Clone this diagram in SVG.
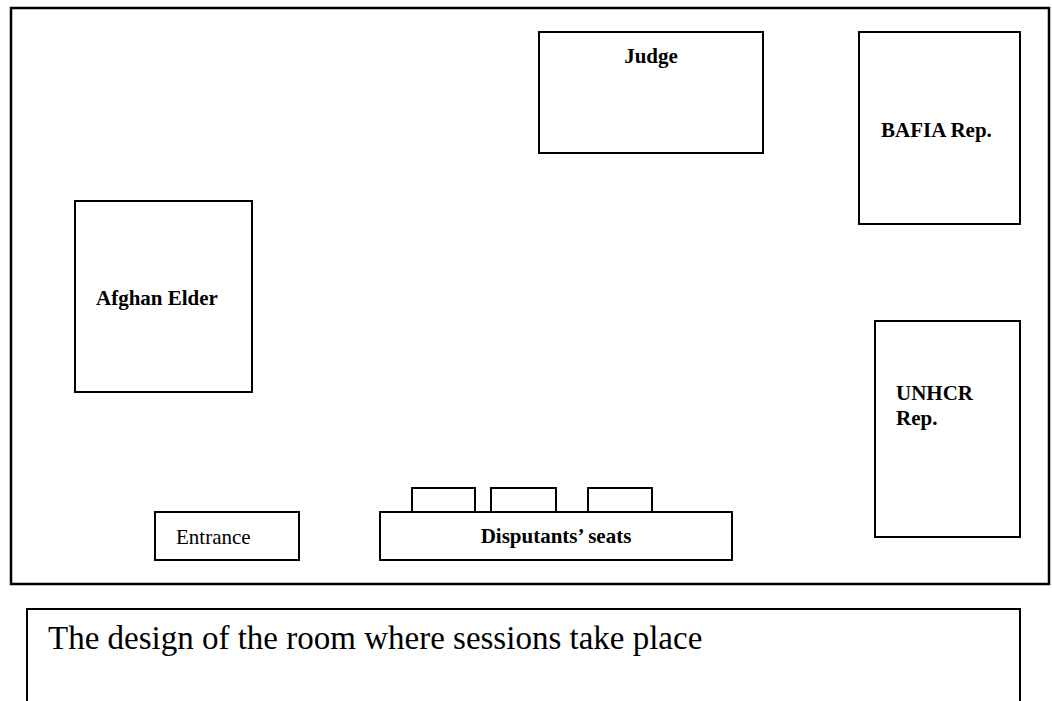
<svg xmlns="http://www.w3.org/2000/svg" width="1052" height="701" viewBox="0 0 1052 701">
  <style>
    .box { fill: #ffffff; stroke: #000000; stroke-width: 2; }
    .wall { fill: #ffffff; stroke: #000000; stroke-width: 2.5; }
    .lbl { font-family: "Liberation Serif", "Times New Roman", serif; font-size: 21px; font-weight: bold; fill: #000000; }
    .plain { font-family: "Liberation Serif", "Times New Roman", serif; font-size: 21px; fill: #000000; }
    .caption { font-family: "Liberation Serif", "Times New Roman", serif; font-size: 33px; fill: #000000; }
  </style>

  <rect x="0" y="0" width="1052" height="701" fill="#ffffff"/>

  <!-- room outline -->
  <g id="room">
    <rect class="wall" x="11" y="8" width="1038" height="576"/>
  </g>

  <g id="judge">
    <rect class="box" x="539" y="32" width="224" height="121"/>
    <text class="lbl" x="651" y="63" text-anchor="middle">Judge</text>
  </g>

  <g id="bafia-rep">
    <rect class="box" x="859" y="32" width="161" height="192"/>
    <text class="lbl" x="881" y="137">BAFIA Rep.</text>
  </g>

  <g id="afghan-elder">
    <rect class="box" x="75" y="201" width="177" height="191"/>
    <text class="lbl" x="96" y="305">Afghan Elder</text>
  </g>

  <g id="unhcr-rep">
    <rect class="box" x="875" y="321" width="145" height="216"/>
    <text class="lbl" x="896" y="400">UNHCR</text>
    <text class="lbl" x="896" y="425">Rep.</text>
  </g>

  <g id="entrance">
    <rect class="box" x="155" y="512" width="144" height="48"/>
    <text class="plain" x="176" y="544">Entrance</text>
  </g>

  <g id="disputants-seats">
    <rect class="box" x="412" y="488" width="63" height="24"/>
    <rect class="box" x="491" y="488" width="65" height="24"/>
    <rect class="box" x="588" y="488" width="64" height="24"/>
    <rect class="box" x="380" y="512" width="352" height="48"/>
    <text class="lbl" x="556" y="543" text-anchor="middle">Disputants’ seats</text>
  </g>

  <!-- caption frame, open at the bottom edge -->
  <g id="caption">
    <path class="box" fill="none" d="M27,701 V609 H1020 V701"/>
    <text class="caption" x="48" y="649">The design of the room where sessions take place</text>
  </g>
</svg>
